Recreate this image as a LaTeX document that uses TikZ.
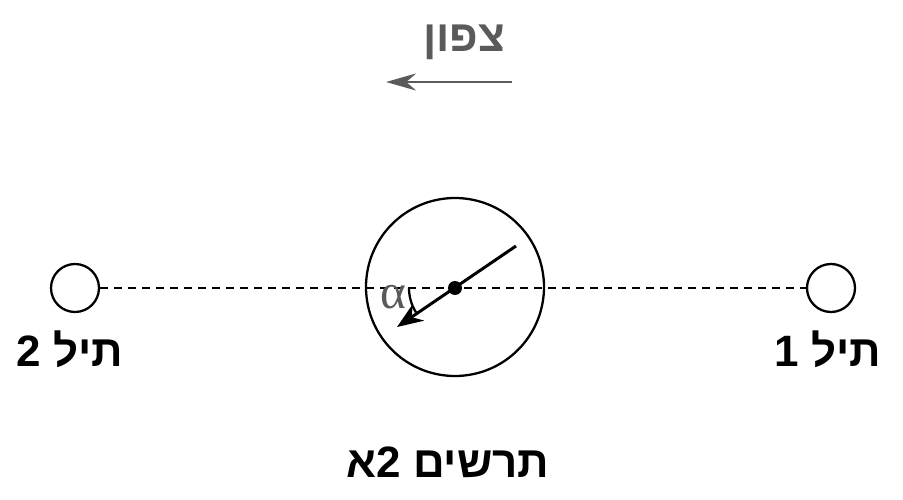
\documentclass[tikz,border=0pt]{standalone}
\usepackage{fontspec}
\usetikzlibrary{arrows.meta}
\TeXXeTstate=1
\newfontfamily\hebfont[Script=Hebrew]{Liberation Sans}
\newfontfamily\grkfont{Liberation Serif}
\definecolor{northgray}{RGB}{90,90,90}

\begin{document}
\begin{tikzpicture}[wire/.style={draw,circle,line width=0.65pt,minimum size=0.48cm,inner sep=0pt},
		heb/.style={font=\hebfont\bfseries\fontsize{12.5}{12.5}\selectfont}]
		\useasboundingbox (0,0) rectangle (9.03,4.99);
		% north
		\node[heb,text=northgray] (north) at (4.64,4.57) {\beginR צפון\endR};
		\coordinate (n1) at (5.12,4.17);
		\coordinate (n2) at (3.86,4.17);
		\draw[northgray,line width=0.65pt,-{Stealth[length=0.3cm,width=0.17cm]}] (n1) -- (n2);
		% wires and compass
		\node[wire] (w2) at (0.75,2.11) {};
		\node[wire] (w1) at (8.31,2.11) {};
		\node[draw,circle,line width=0.65pt,minimum size=1.78cm,inner sep=0pt] (ring) at (4.55,2.12) {};
		\draw[line width=0.6pt,dash pattern=on 0.08cm off 0.06cm] (w2) -- (w1);
		\node[fill,circle,inner sep=0pt,minimum size=0.14cm] (c) at (4.55,2.11) {};
		\coordinate (tail) at (5.16,2.53);
		\coordinate (head) at (3.97,1.72);
		\draw[line width=0.85pt,-{Stealth[length=0.26cm,width=0.2cm]}] (tail) -- (head);
		\draw[line width=0.65pt] (c) ++(180:0.46) arc (180:212:0.46);
		\node[text=northgray,font=\grkfont\fontsize{14}{14}\selectfont] (alpha) at (3.93,2.02) {α};
		% labels
		\node[heb] (t2) at (0.70,1.50) {\beginR תיל 2\endR};
		\node[heb] (t1) at (8.28,1.50) {\beginR תיל 1\endR};
		\node[heb] (fig) at (4.48,0.37) {\beginR תרשים 2א\endR};
	\end{tikzpicture}
\end{document}
